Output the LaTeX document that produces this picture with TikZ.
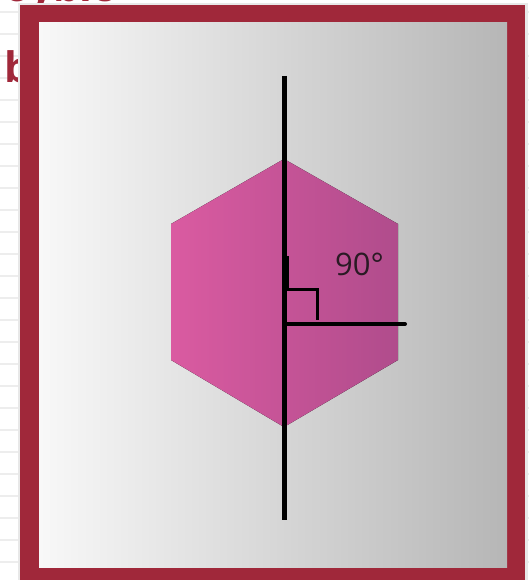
\documentclass[tikz,border=0pt]{standalone}
\usepackage{fontspec}
\setmainfont{Open Sans}
\definecolor{frame}{HTML}{A0283A}
\definecolor{hexL}{HTML}{DA5BA1}
\definecolor{hexR}{HTML}{B04C8C}
\definecolor{bgL}{HTML}{F8F8F8}
\definecolor{bgR}{HTML}{B6B6B6}
\definecolor{txt}{HTML}{2A1A24}
\tikzset{
  axisline/.style={line width=4.5pt, black},
  armline/.style={line width=4pt, black, line cap=round},
  rightmark/.style={line width=3pt, black},
  redtext/.style={text=frame, inner sep=0pt, font=\fontsize{42}{42}\selectfont\bfseries},
  bgline/.style={line width=2pt, black!7}
}
\begin{document}
\begin{tikzpicture}[x=1pt,y=-1pt]
\useasboundingbox (0,0) rectangle (529,580);
\begin{scope}
\clip (0,0) rectangle (529,580);
\fill[white] (0,0) rectangle (529,580);
% faint lines of the slide behind
\foreach \yy in {12,34,...,580} {
  \draw[bgline] (0,\yy) -- (20,\yy);
  \draw[bgline] (525,\yy) -- (529,\yy);
}
% partly hidden red texts
\node[redtext, anchor=base west] (toptext) at (4,2) {oybic};
\node[redtext, anchor=base west] (bletter) at (4,83) {b};
% frame shadow
\fill[black!9] (17.5,3.5) rectangle (527.5,580);
% frame
\fill[frame] (20,5) rectangle (525,590);
% inner panel
\fill[left color=bgL, right color=bgR] (39,23) rectangle (507,567);
\end{scope}
% hexagon
\coordinate (hT) at (284,159);
\coordinate (hUR) at (398,224);
\coordinate (hLR) at (398,360);
\coordinate (hB) at (284,427);
\coordinate (hLL) at (171,360);
\coordinate (hUL) at (171,224);
\fill[left color=hexL, right color=hexR] (hT) -- (hUR) -- (hLR) -- (hB) -- (hLL) -- (hUL) -- cycle;
% axis
\coordinate (vTop) at (284.5,76);
\coordinate (vBot) at (284.5,520);
\draw[axisline] (vTop) -- (vBot);
\coordinate (hO) at (284.5,324);
\coordinate (hEnd) at (405,324);
\draw[armline] (hO) -- (hEnd);
% right angle mark
\draw[rightmark] (287.5,256) -- (287.5,289.5) -- (317,289.5) -- (317,320);
\node[text=txt, inner sep=0pt, font=\fontsize{31}{31}\selectfont] (ang) at (359.5,264) {90°};
\end{tikzpicture}
\end{document}
